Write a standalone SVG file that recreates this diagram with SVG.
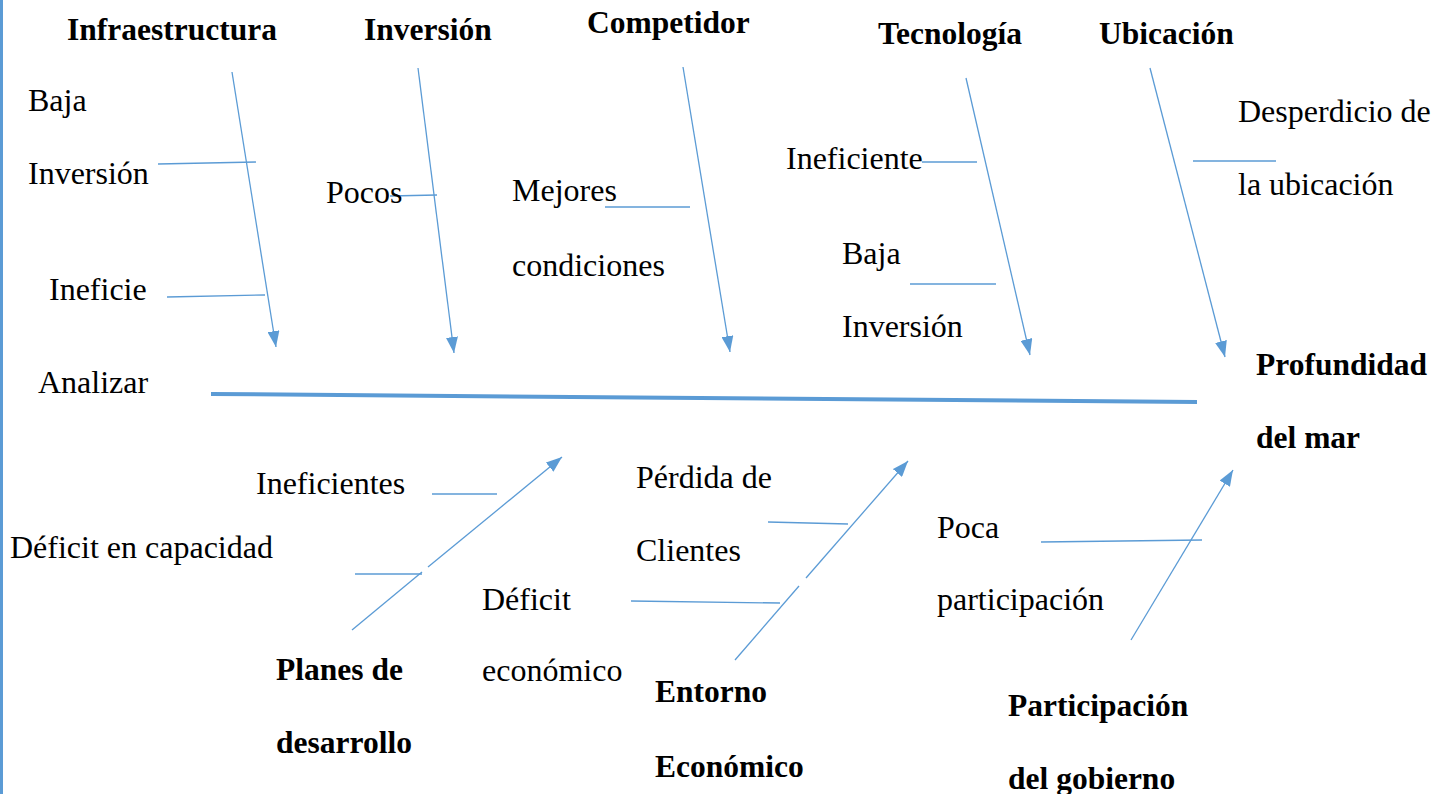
<svg xmlns="http://www.w3.org/2000/svg" width="1435" height="794" viewBox="0 0 1435 794">
<style>
.b{font-family:"Liberation Serif","Times New Roman",serif;font-weight:bold;font-size:31.5px;fill:#000}
.t{font-family:"Liberation Serif","Times New Roman",serif;font-size:32px;fill:#000}
.ln{stroke:#5B9BD5;stroke-width:1.3;fill:none}
</style>
<defs>
<marker id="ah" viewBox="0 0 16 12" refX="16" refY="6" markerWidth="16" markerHeight="12" markerUnits="userSpaceOnUse" orient="auto">
<path d="M0,0 L16,6 L0,12 z" fill="#5B9BD5"/>
</marker>
</defs>
<rect width="1435" height="794" fill="#fff"/>
<line x1="1.5" y1="0" x2="1.5" y2="794" stroke="#5B9BD5" stroke-width="3"/>
<g id="connectors">
<line x1="211" y1="394" x2="1197" y2="402" stroke="#5B9BD5" stroke-width="4"/>
<line class="ln" x1="232" y1="72" x2="276" y2="347" marker-end="url(#ah)"/>
<line class="ln" x1="158" y1="164" x2="256" y2="162"/>
<line class="ln" x1="167" y1="297" x2="265" y2="295"/>
<line class="ln" x1="418" y1="68" x2="454" y2="353" marker-end="url(#ah)"/>
<line class="ln" x1="390" y1="196" x2="437" y2="195"/>
<line class="ln" x1="683" y1="67" x2="730" y2="352" marker-end="url(#ah)"/>
<line class="ln" x1="605" y1="207" x2="690" y2="207"/>
<line class="ln" x1="966" y1="78" x2="1030" y2="355" marker-end="url(#ah)"/>
<line class="ln" x1="922" y1="162" x2="977" y2="162"/>
<line class="ln" x1="910" y1="284" x2="996" y2="284"/>
<line class="ln" x1="1150" y1="68" x2="1225" y2="357" marker-end="url(#ah)"/>
<line class="ln" x1="1193" y1="161" x2="1276" y2="161"/>
<line class="ln" x1="352" y1="630" x2="422" y2="572"/>
<line class="ln" x1="428" y1="567" x2="562" y2="457" marker-end="url(#ah)"/>
<line class="ln" x1="432" y1="494" x2="497" y2="494"/>
<line class="ln" x1="355" y1="574" x2="422" y2="574"/>
<line class="ln" x1="735" y1="660" x2="799" y2="586"/>
<line class="ln" x1="806" y1="578" x2="908" y2="461" marker-end="url(#ah)"/>
<line class="ln" x1="768" y1="522" x2="848" y2="524"/>
<line class="ln" x1="631" y1="601" x2="780" y2="603"/>
<line class="ln" x1="1131" y1="640" x2="1233" y2="470" marker-end="url(#ah)"/>
<line class="ln" x1="1041" y1="542" x2="1202" y2="540"/>
</g>
<g id="infraestructura"><text class="b" x="67" y="40">Infraestructura</text></g>
<g id="inversion"><text class="b" x="364" y="40">Inversión</text></g>
<g id="competidor"><text class="b" x="587" y="33">Competidor</text></g>
<g id="tecnologia"><text class="b" x="878" y="44">Tecnología</text></g>
<g id="ubicacion"><text class="b" x="1099" y="44">Ubicación</text></g>
<g id="profundidad"><text class="b" x="1256" y="375">Profundidad</text><text class="b" x="1256" y="448">del mar</text></g>
<g id="planes"><text class="b" x="276" y="680">Planes de</text><text class="b" x="276" y="753">desarrollo</text></g>
<g id="entorno"><text class="b" x="655" y="702">Entorno</text><text class="b" x="655" y="777">Económico</text></g>
<g id="participacion"><text class="b" x="1008" y="716">Participación</text><text class="b" x="1008" y="789">del gobierno</text></g>
<g id="c-baja-inversion"><text class="t" x="28" y="111">Baja</text><text class="t" x="28" y="184">Inversión</text></g>
<g id="c-ineficie"><text class="t" x="49" y="300">Ineficie</text></g>
<g id="c-analizar"><text class="t" x="38" y="393">Analizar</text></g>
<g id="c-pocos"><text class="t" x="326" y="203">Pocos</text></g>
<g id="c-mejores"><text class="t" x="512" y="201">Mejores</text><text class="t" x="512" y="276">condiciones</text></g>
<g id="c-ineficiente"><text class="t" x="786" y="169">Ineficiente</text></g>
<g id="c-baja-inversion2"><text class="t" x="842" y="264">Baja</text><text class="t" x="842" y="337">Inversión</text></g>
<g id="c-desperdicio"><text class="t" x="1238" y="122">Desperdicio de</text><text class="t" x="1238" y="195">la ubicación</text></g>
<g id="c-ineficientes"><text class="t" x="256" y="494">Ineficientes</text></g>
<g id="c-deficit-capacidad"><text class="t" x="10" y="558">Déficit en capacidad</text></g>
<g id="c-perdida"><text class="t" x="636" y="488">Pérdida de</text><text class="t" x="636" y="561">Clientes</text></g>
<g id="c-deficit-economico"><text class="t" x="482" y="610">Déficit</text><text class="t" x="482" y="681">económico</text></g>
<g id="c-poca"><text class="t" x="937" y="538">Poca</text><text class="t" x="937" y="610">participación</text></g>
</svg>
